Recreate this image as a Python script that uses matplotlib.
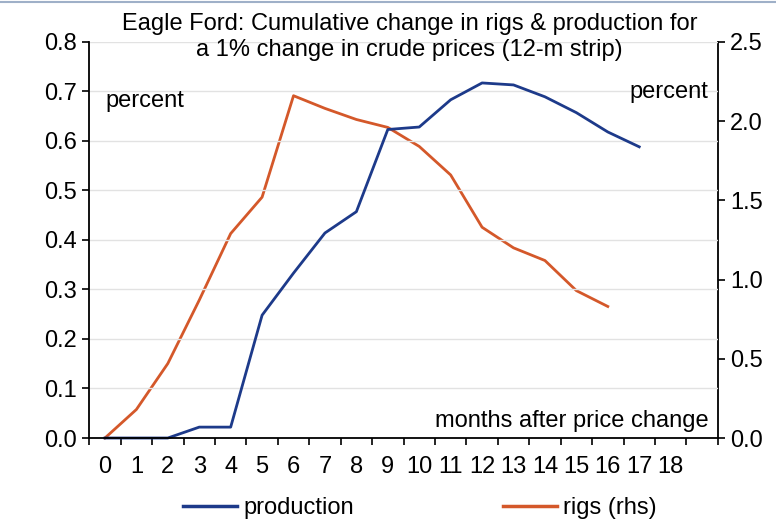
import matplotlib.pyplot as plt
from matplotlib.lines import Line2D
import numpy as np

plt.rcParams['font.family'] = ['Liberation Sans', 'DejaVu Sans']

months = list(range(0, 19))
month_labels = [str(m) for m in months]

prod_months = list(range(0, 18))
production = [0.0, 0.0, 0.0, 0.022, 0.022, 0.248, 0.333, 0.414, 0.457, 0.623,
              0.628, 0.683, 0.717, 0.713, 0.689, 0.657, 0.618, 0.588]

rig_months = list(range(0, 17))
rigs = [0.0, 0.18, 0.47, 0.87, 1.29, 1.52, 2.16, 2.08, 2.01, 1.96,
        1.84, 1.66, 1.33, 1.20, 1.12, 0.93, 0.83]

blue = '#1d3a8a'
orange = '#d4582a'
fs = 17

fig = plt.figure(figsize=(7.76, 5.23), dpi=100)
ax = fig.add_axes([0.115, 0.1625, 0.81, 0.7575])
ax2 = ax.twinx()

ax.set_zorder(ax2.get_zorder() + 1)
ax.patch.set_visible(False)

ax.plot(prod_months, production, color=blue, lw=2.0, clip_on=False, zorder=2.4)
ax2.plot(rig_months, rigs, color=orange, lw=2.0, clip_on=False, zorder=3)

ax.set_xlim(-0.5, 19.5)
ax.set_ylim(0, 0.8)
ax2.set_ylim(0, 2.5)

ax.set_yticks(np.arange(0, 0.81, 0.1))
ax.set_yticklabels(['%.1f' % v for v in np.arange(0, 0.81, 0.1)])
ax2.set_yticks(np.arange(0, 2.51, 0.5))
ax2.set_yticklabels(['%.1f' % v for v in np.arange(0, 2.51, 0.5)])

ax.set_xticks(months)
ax.set_xticklabels(month_labels)
ax.set_xticks(np.arange(-0.5, 19.6, 1), minor=True)
ax.tick_params(axis='x', which='major', length=0, pad=13, labelsize=fs)
ax.tick_params(axis='x', which='minor', length=5, width=1.2, direction='out')
ax.tick_params(axis='y', length=5, width=1.2, labelsize=fs, pad=4)
ax2.tick_params(axis='y', length=5, width=1.2, labelsize=fs, pad=4)

ax.yaxis.grid(True, color='#e2e2e2', lw=1)
ax.set_axisbelow(True)

for a in (ax, ax2):
    a.spines['top'].set_visible(False)
    for s in ('left', 'right', 'bottom'):
        a.spines[s].set_linewidth(1.3)
ax.spines['right'].set_visible(False)
ax2.spines['left'].set_visible(False)
ax2.spines['bottom'].set_visible(False)

ax.text(0.51, 1.012, 'Eagle Ford: Cumulative change in rigs & production for\n'
        'a 1% change in crude prices (12-m strip)', transform=ax.transAxes,
        ha='center', va='center', fontsize=fs, linespacing=1.2)
ax.text(0.025, 0.851, 'percent', transform=ax.transAxes, ha='left',
        va='center', fontsize=fs)
ax.text(0.985, 0.874, 'percent', transform=ax.transAxes, ha='right',
        va='center', fontsize=fs)
ax.text(0.985, 0.043, 'months after price change', transform=ax.transAxes,
        ha='right', va='center', fontsize=fs)

handles = [Line2D([], [], color=blue, lw=2.5), Line2D([], [], color=orange, lw=2.5)]
fig.legend(handles, ['production', 'rigs (rhs)'], loc='center',
           bbox_to_anchor=(0.541, 0.029), ncol=2, frameon=False, fontsize=fs,
           handlelength=2.3, handletextpad=0.25, columnspacing=6.3)

fig.add_artist(Line2D([0, 1], [0.997, 0.997], color='#9fb0c8', lw=1.5,
                      transform=fig.transFigure))

fig.savefig('out.png', dpi=100, facecolor='white')
